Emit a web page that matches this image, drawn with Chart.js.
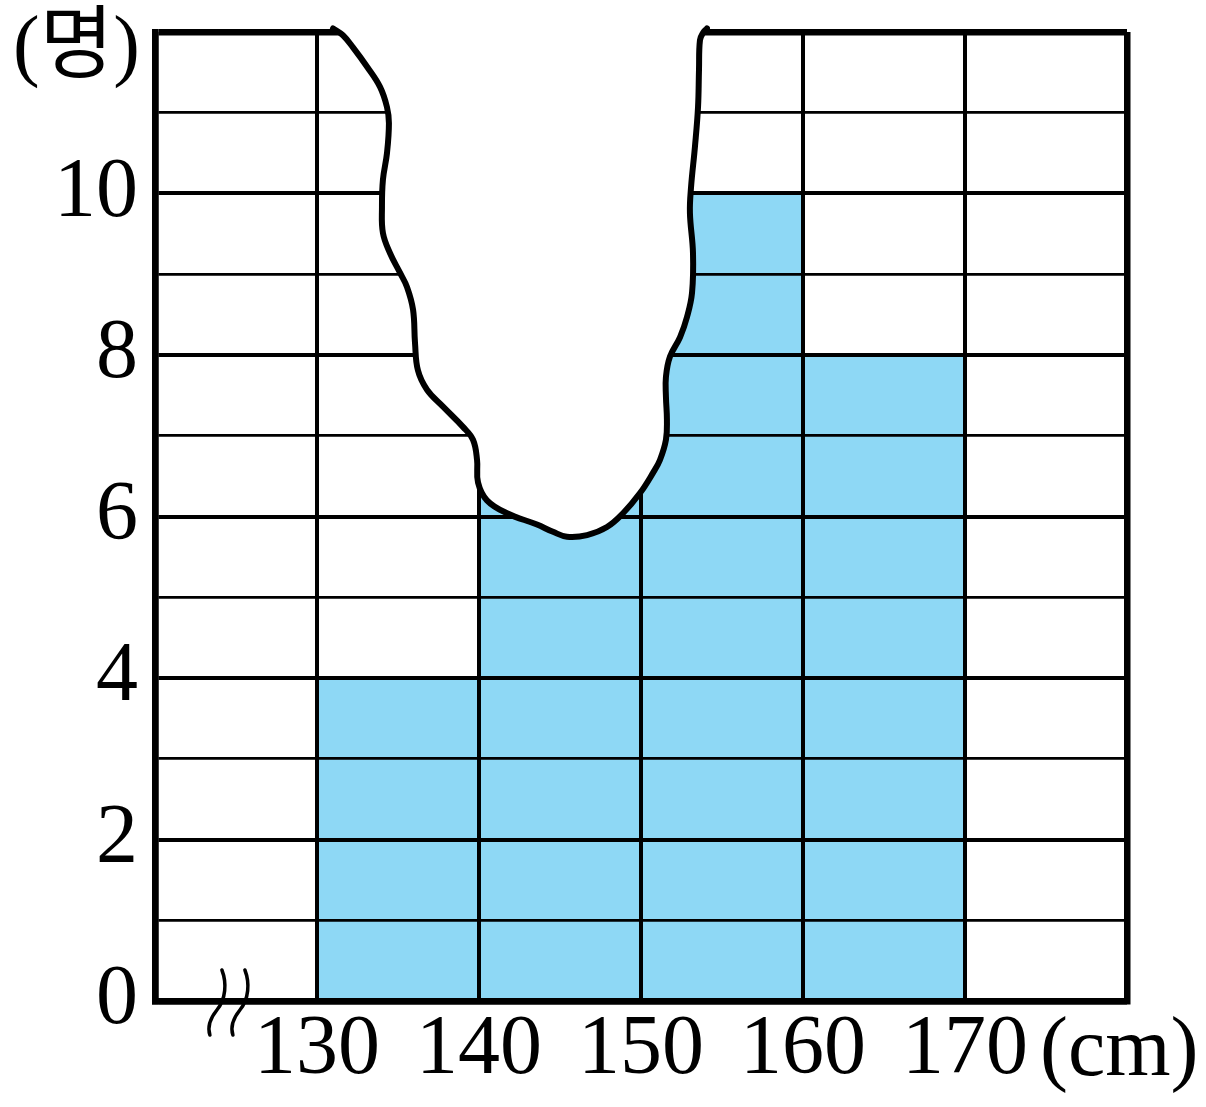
<!DOCTYPE html>
<html lang="ko">
<head>
  <meta charset="UTF-8" />
  <title>키 히스토그램</title>
  <style>
    body { margin: 0; padding: 0; background: #fff; }
    .wrap { width: 1206px; height: 1107px; position: relative; }
  </style>
  <script src="https://cdn.jsdelivr.net/npm/chart.js"></script>
</head>
<body>
  <div class="wrap"><canvas id="chart"></canvas></div>

  <script>
    // 계급(cm)과 인원수
    const classMid = [125, 135, 145, 155, 165, 175];
    const counts = [0, 4, 7, 10, 8, 0];

    // 눈금
    const xTicks = [120, 130, 140, 150, 160, 170, 180];
    const xLabels = ['', '130', '140', '150', '160', '170', ''];
    const yTicks = [0, 1, 2, 3, 4, 5, 6, 7, 8, 9, 10, 11, 12];
    const yLabels = ['0', '', '2', '', '4', '', '6', '', '8', '', '10', '', ''];

    // 찢어진 부분 윤곽 (cm, 명)
    const tearX = [130.99, 131.60, 132.22, 133.09, 133.89, 134.32, 134.44, 134.32, 134.07, 134.01,
      134.07, 134.51, 135.12, 135.56, 135.93, 136.05, 136.23, 136.79, 137.78, 139.01,
      139.63, 139.88, 139.94, 140.49, 141.73, 143.58, 144.57, 145.43, 146.67, 147.90,
      148.89, 149.94, 150.74, 151.17, 151.54, 151.60, 151.54, 151.54, 151.79, 152.41,
      152.84, 153.15, 153.21, 153.02, 153.09, 153.33, 153.52, 153.58, 153.64, 153.83, 154.07];
    const tearY = [12.045, 11.96, 11.81, 11.57, 11.32, 11.07, 10.87, 10.50, 10.17, 9.83,
      9.51, 9.26, 9.02, 8.84, 8.56, 8.15, 7.81, 7.57, 7.36, 7.11,
      6.95, 6.70, 6.42, 6.20, 6.04, 5.90, 5.81, 5.75, 5.77, 5.87,
      6.04, 6.29, 6.54, 6.70, 6.95, 7.20, 7.48, 7.73, 7.98, 8.22,
      8.47, 8.77, 9.26, 9.76, 10.08, 10.58, 11.07, 11.53, 11.90, 11.99, 12.045];

    const serif = '"Liberation Serif", "Noto Sans CJK KR", serif';
    const BLUE = '#8ED8F5';

    function gridWidthY(ctx) {
      const v = ctx.tick ? ctx.tick.value : 0;
      if (v === 0 || v === 12) return 6.5;
      return v % 2 === 0 ? 4 : 2.8;
    }
    function gridWidthX(ctx) {
      const v = ctx.tick ? ctx.tick.value : 0;
      if (v === 120 || v === 180) return 6.5;
      return 4;
    }

    const tearPlugin = {
      id: 'tear',
      beforeDatasetDraw(chart, args) {
        if (args.index === 1) return false;
      },
      afterDraw(chart) {
        const ctx = chart.ctx;
        const line = chart.getDatasetMeta(1).dataset;
        const xs = chart.scales.x, ys = chart.scales.y;

        // 찢어진 부분: 흰색으로 덮고 윤곽선
        ctx.save();
        ctx.beginPath();
        line.path(ctx);
        ctx.closePath();
        ctx.fillStyle = '#fff';
        ctx.fill();
        ctx.restore();
        line.draw(ctx, chart.chartArea);

        // 물결선 (축 생략)
        const bx = xs.getPixelForValue(124.5);
        const by = ys.getPixelForValue(0);
        ctx.save();
        ctx.strokeStyle = '#000';
        ctx.lineWidth = 3.5;
        ctx.lineCap = 'round';
        [-11, 12].forEach(dx => {
          const cx = bx + dx;
          ctx.beginPath();
          ctx.moveTo(cx + 5, by - 31);
          ctx.bezierCurveTo(cx + 10, by - 18, cx + 9, by - 2, cx, by + 9);
          ctx.bezierCurveTo(cx - 8, by + 19, cx - 9, by + 28, cx - 7, by + 34);
          ctx.stroke();
        });

        // 단위
        ctx.fillStyle = '#000';
        ctx.font = '80px ' + serif;
        ctx.textAlign = 'right';
        ctx.textBaseline = 'middle';
        ctx.fillText('(명)', chart.chartArea.left - 15, chart.chartArea.top + 18);
        ctx.font = '84px ' + serif;
        ctx.textAlign = 'left';
        ctx.fillText('(cm)', xs.getPixelForValue(180) - 87, by + 52);
        ctx.restore();
      }
    };

    new Chart(document.getElementById('chart'), {
      type: 'bar',
      data: {
        datasets: [{
          data: classMid.map((x, i) => ({ x: x, y: counts[i] })),
          backgroundColor: BLUE,
          borderWidth: 0,
          barPercentage: 1,
          categoryPercentage: 1,
          grouped: false
        }, {
          type: 'line',
          data: tearX.map((x, i) => ({ x: x, y: tearY[i] })),
          borderColor: '#000',
          borderWidth: 6,
          borderJoinStyle: 'round',
          borderCapStyle: 'round',
          tension: 0.4,
          capBezierPoints: false,
          pointRadius: 0,
          fill: false,
          clip: false
        }]
      },
      options: {
        responsive: true,
        maintainAspectRatio: false,
        animation: false,
        events: [],
        layout: { padding: { top: 32, right: 79, left: 0, bottom: 0 } },
        plugins: { legend: { display: false }, tooltip: { enabled: false } },
        scales: {
          x: {
            type: 'linear',
            min: 120,
            max: 180,
            offset: false,
            afterBuildTicks: s => { s.ticks = xTicks.map(v => ({ value: v })); },
            afterFit: s => { s.height = 106; },
            grid: { z: 1, offset: false, color: '#000', lineWidth: gridWidthX, drawTicks: false },
            border: { z: 1, color: '#000', width: 6.5 },
            ticks: {
              autoSkip: false,
              maxRotation: 0,
              padding: 8,
              color: '#000',
              font: { family: serif, size: 84, lineHeight: 1 },
              callback: (v, i) => xLabels[i] || []
            }
          },
          y: {
            min: 0,
            max: 12,
            afterBuildTicks: s => { s.ticks = yTicks.map(v => ({ value: v })); },
            afterFit: s => { s.width = 155; },
            grid: { z: 1, color: '#000', lineWidth: gridWidthY, drawTicks: false },
            border: { z: 1, color: '#000', width: 6.5 },
            ticks: {
              autoSkip: false,
              padding: 17,
              color: '#000',
              font: { family: serif, size: 84, lineHeight: 1 },
              callback: (v, i) => yLabels[i] || []
            }
          }
        }
      },
      plugins: [tearPlugin]
    });
  </script>
</body>
</html>
